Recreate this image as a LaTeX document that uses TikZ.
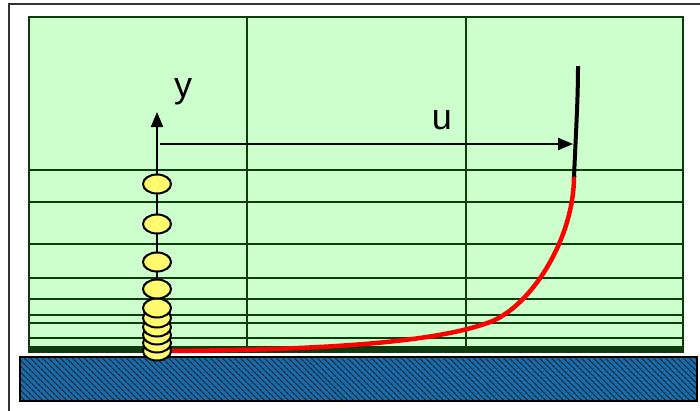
\documentclass[tikz,border=0pt]{standalone}
\usepackage{fontspec}
\setmainfont{Liberation Sans}
\usetikzlibrary{arrows.meta,patterns,patterns.meta,shapes.geometric}
\definecolor{meshgreen}{RGB}{204,255,204}
\definecolor{meshline}{RGB}{15,60,15}
\definecolor{slabblue}{RGB}{20,110,180}
\definecolor{beadyellow}{RGB}{255,250,110}
\tikzset{
  meshrule/.style={draw=meshline,line width=2pt},
  bead/.style={ellipse,draw=black,line width=2pt,fill=beadyellow,minimum width=28pt,minimum height=19pt,inner sep=0pt},
  axisarrow/.style={draw=black,line width=2pt,-{Triangle[length=15pt,width=12pt]}},
  lbl/.style={font=\fontsize{36}{36}\selectfont,inner sep=0pt}
}
\begin{document}
\begin{tikzpicture}[x=1pt,y=-1pt]
\useasboundingbox (0,0) rectangle (700,410);
\clip (0,0) rectangle (700,410);
\fill[white] (0,0) rectangle (700,410);
% outer frame
\draw[draw=black!80,line width=1.8pt] (9,4) rectangle (712,420);
% mesh
\fill[meshgreen] (29,17) rectangle (683,352);
\foreach \yy in {170,202,244,278,299,315,323,338,347}
  \draw[meshrule] (29,\yy) -- (683,\yy);
\foreach \xx in {247,466}
  \draw[meshrule] (\xx,17) -- (\xx,352);
\draw[meshrule] (29,17) rectangle (683,352);
\draw[draw=meshline,line width=4.5pt] (29,350.5) -- (683,350.5);
% slab
\fill[slabblue] (20,357) rectangle (697,401);
\fill[pattern={Lines[angle=-45,distance=4pt,line width=1.3pt]},pattern color=black!85] (20,357) rectangle (697,401);
\draw[black,line width=1.8pt] (20,357) rectangle (697,401);
% red profile
\draw[red,line width=4.5pt] (166,351) .. controls (300,350) and (430,344.8) .. (490,322)
  .. controls (530,307) and (574,240) .. (574,176);
% black profile top
\draw[black,line width=4pt] (574,177) .. controls (576,130) and (578,100) .. (578,66);
% axes
\coordinate (ybase) at (157,350);
\coordinate (ytip) at (157,112);
\coordinate (ustart) at (160,144);
\coordinate (utip) at (573,144);
\draw[axisarrow] (ybase) -- (ytip);
\draw[axisarrow] (ustart) -- (utip);
\node[lbl,anchor=center] (ylabel) at (183,92) {y};
\node[lbl,anchor=center] (ulabel) at (442,120) {u};
% beads, bottom first
\node[bead] (e10) at (157,351) {};
\node[bead] (e9) at (157,343) {};
\node[bead] (e8) at (157,335) {};
\node[bead] (e7) at (157,327) {};
\node[bead] (e6) at (157,318) {};
\node[bead] (e5) at (157,308) {};
\node[bead] (e4) at (157,289) {};
\node[bead] (e3) at (157,262) {};
\node[bead] (e2) at (157,224) {};
\node[bead] (e1) at (157,184) {};
\end{tikzpicture}
\end{document}
